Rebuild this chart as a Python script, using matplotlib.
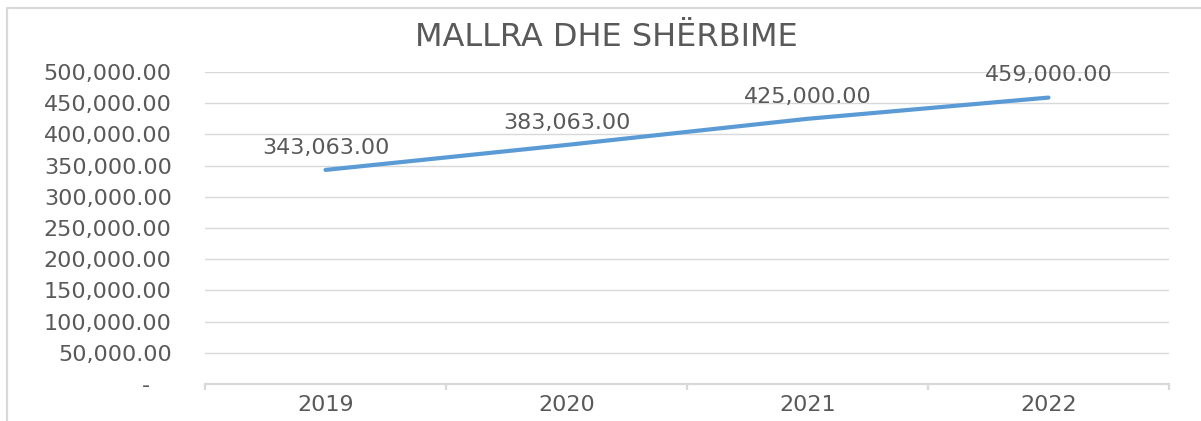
import matplotlib.pyplot as plt
from matplotlib.lines import Line2D
from matplotlib.ticker import FuncFormatter, FixedLocator

# Goods and services budget per year
years = ["2019", "2020", "2021", "2022"]
values = [343063.00, 383063.00, 425000.00, 459000.00]
y_ticks = [0, 50000, 100000, 150000, 200000, 250000, 300000, 350000, 400000, 450000, 500000]

TEXT_CLR = "#595959"
GRID_CLR = "#d9d9d9"
LINE_CLR = "#5b9bd5"

W, H = 1201, 421
fig = plt.figure(figsize=(W / 100, H / 100), dpi=100)
fig.patch.set_facecolor("white")

# chart frame (left and top edge)
fig.add_artist(Line2D([7 / W, 7 / W, 1.0], [0.0, 1 - 8 / H, 1 - 8 / H],
                      transform=fig.transFigure, color=GRID_CLR, lw=1.6))

ax = fig.add_axes([205 / W, 1 - 384 / H, (1169 - 205) / W, (384 - 72) / H])
x = list(range(len(years)))
ax.plot(x, values, color=LINE_CLR, lw=3.0, solid_capstyle="round", zorder=3)

for xi, v in zip(x, values):
    ax.annotate(f"{v:,.2f}", (xi, v), xytext=(0, 16), textcoords="offset points",
                ha="center", va="center", fontsize=16, color=TEXT_CLR)

ax.set_xlim(-0.5, len(years) - 0.5)
ax.set_ylim(0, 500000)
ax.set_xticks(x)
ax.set_xticklabels(years)
ax.xaxis.set_minor_locator(FixedLocator([i - 0.5 for i in range(len(years) + 1)]))
ax.set_yticks(y_ticks)
ax.yaxis.set_major_formatter(FuncFormatter(lambda v, p: "-   " if v == 0 else f"{v:,.2f}"))

ax.grid(axis="y", color=GRID_CLR, lw=1.0)
ax.set_axisbelow(True)
for s in ["top", "right", "left"]:
    ax.spines[s].set_visible(False)
ax.spines["bottom"].set_color(GRID_CLR)
ax.spines["bottom"].set_linewidth(1.6)

ax.tick_params(axis="y", length=0, pad=24, labelsize=16, labelcolor=TEXT_CLR)
ax.tick_params(axis="x", which="major", length=0, pad=8, labelsize=16, labelcolor=TEXT_CLR)
ax.tick_params(axis="x", which="minor", length=4, width=1.6, color=GRID_CLR)

fig.text(606 / W, 1 - 38 / H, "MALLRA DHE SHËRBIME", ha="center", va="center",
         fontsize=23, color=TEXT_CLR)

fig.savefig("out.png", dpi=100, facecolor="white")
